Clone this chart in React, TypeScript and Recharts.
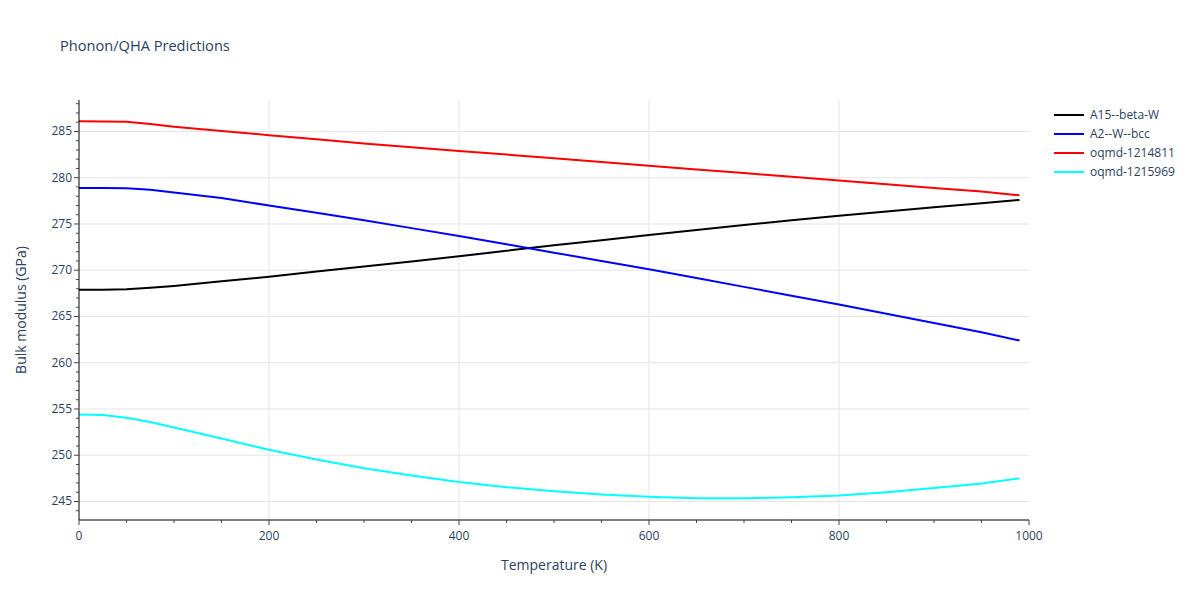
import React from "react";
import {
  LineChart,
  Line,
  CartesianGrid,
  XAxis,
  YAxis,
} from "recharts";

const temps = [0, 25, 50, 75, 100, 150, 200, 250, 300, 350, 400, 450, 500, 550, 600, 650, 700, 750, 800, 850, 900, 950, 990];

const a15BetaW = [267.9, 267.9, 267.95, 268.1, 268.3, 268.8, 269.3, 269.85, 270.4, 270.95, 271.5, 272.1, 272.7, 273.25, 273.8, 274.35, 274.9, 275.4, 275.9, 276.35, 276.8, 277.25, 277.6];
const a2WBcc = [278.9, 278.88, 278.85, 278.7, 278.4, 277.8, 277.0, 276.2, 275.4, 274.55, 273.7, 272.8, 271.9, 271.0, 270.1, 269.15, 268.2, 267.25, 266.3, 265.3, 264.3, 263.3, 262.4];
const oqmd1214811 = [286.1, 286.08, 286.05, 285.8, 285.5, 285.05, 284.6, 284.15, 283.7, 283.3, 282.9, 282.5, 282.1, 281.7, 281.3, 280.9, 280.5, 280.1, 279.7, 279.3, 278.9, 278.5, 278.1];
const oqmd1215969 = [254.4, 254.35, 254.05, 253.6, 253.0, 251.8, 250.6, 249.55, 248.6, 247.8, 247.1, 246.55, 246.1, 245.75, 245.5, 245.35, 245.35, 245.45, 245.65, 246.0, 246.45, 246.95, 247.5];

const seriesNames = ["A15--beta-W", "A2--W--bcc", "oqmd-1214811", "oqmd-1215969"];
const seriesColors = ["#000000", "#0000ff", "#ff0000", "#00ffff"];

const xMajor = [0, 200, 400, 600, 800, 1000];
const yMajor = [245, 250, 255, 260, 265, 270, 275, 280, 285];
const xMinor = Array.from({ length: 21 }, (_, i) => i * 50);
const yMinor = Array.from({ length: 45 }, (_, i) => 244 + i);

const data = temps.map((t, i) => ({
  t,
  s0: a15BetaW[i],
  s1: a2WBcc[i],
  s2: oqmd1214811[i],
  s3: oqmd1215969[i],
}));

const FONT = '"Open Sans", verdana, arial, sans-serif';
const TEXT = "#2a3f5f";

function XTick(props: any) {
  const { x, y, payload } = props;
  const major = xMajor.includes(payload.value);
  return (
    <g>
      <line x1={x} x2={x} y1={y} y2={y + (major ? 5 : 3)} stroke="#444" />
      {major && (
        <text x={x} y={y + 20} textAnchor="middle" fontSize={12} fill={TEXT} fontFamily={FONT}>
          {payload.value}
        </text>
      )}
    </g>
  );
}

function YTick(props: any) {
  const { x, y, payload } = props;
  const major = yMajor.includes(payload.value);
  return (
    <g>
      <line x1={x - (major ? 5 : 3)} x2={x} y1={y} y2={y} stroke="#444" />
      {major && (
        <text x={x - 7} y={y + 4} textAnchor="end" fontSize={12} fill={TEXT} fontFamily={FONT}>
          {payload.value}
        </text>
      )}
    </g>
  );
}

function LegendBox() {
  return (
    <div style={{ position: "absolute", left: 1050, top: 105, fontFamily: FONT, fontSize: 12, color: TEXT }}>
      {seriesNames.map((name, i) => (
        <div key={name} style={{ display: "flex", alignItems: "center", height: 19 }}>
          <svg width={40} height={4}>
            <line x1={4} x2={34} y1={2} y2={2} stroke={seriesColors[i]} strokeWidth={2} />
          </svg>
          <span>{name}</span>
        </div>
      ))}
    </div>
  );
}

export default function App() {
  return (
    <div style={{ position: "absolute", left: 0, top: 0, width: 1200, height: 600, background: "#fff" }}>
      <div
        style={{
          position: "absolute",
          left: 60,
          top: 35,
          fontFamily: FONT,
          fontSize: 14.6,
          color: TEXT,
        }}
      >
        Phonon/QHA Predictions
      </div>
      <LineChart
        width={1200}
        height={600}
        data={data}
        margin={{ top: 100, right: 171, bottom: 20, left: 19 }}
      >
        <CartesianGrid
          stroke="#e5e5e5"
          horizontalValues={yMajor}
          verticalValues={xMajor.filter((v) => v > 0 && v < 1000)}
        />
        <XAxis
          dataKey="t"
          type="number"
          domain={[0, 1000]}
          ticks={xMinor}
          interval={0}
          height={60}
          tickSize={0}
          tickMargin={0}
          tickLine={false}
          stroke="#000"
          tick={<XTick />}
          label={{
            value: "Temperature (K)",
            position: "insideBottom",
            offset: 10,
            fill: TEXT,
            fontSize: 14,
            fontFamily: FONT,
          }}
        />
        <YAxis
          type="number"
          domain={[243.0, 288.4]}
          ticks={yMinor}
          interval={0}
          width={60}
          tickSize={0}
          tickMargin={0}
          tickLine={false}
          stroke="#000"
          tick={<YTick />}
          label={({ viewBox }: any) => (
            <text
              x={viewBox.x + 1}
              y={viewBox.y + viewBox.height / 2}
              transform={`rotate(-90, ${viewBox.x + 1}, ${viewBox.y + viewBox.height / 2})`}
              textAnchor="middle"
              dominantBaseline="central"
              fontSize={14}
              fill={TEXT}
              fontFamily={FONT}
            >
              Bulk modulus (GPa)
            </text>
          )}
        />
        {seriesNames.map((name, i) => (
          <Line
            key={name}
            type="linear"
            dataKey={`s${i}`}
            name={name}
            stroke={seriesColors[i]}
            strokeWidth={2}
            dot={false}
            isAnimationActive={false}
          />
        ))}
      </LineChart>
      <LegendBox />
    </div>
  );
}
